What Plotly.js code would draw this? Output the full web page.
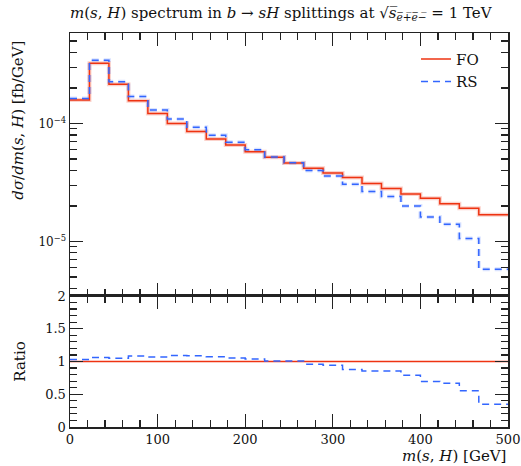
<!DOCTYPE html>
<html><head><meta charset="utf-8">
<script src="https://cdn.plot.ly/plotly-3.0.1.min.js"></script>
<style>html,body{margin:0;padding:0;background:#fff}#c{width:521px;height:466px}</style>
</head><body><div id="c"></div>
<script>
// bin edges in GeV
const binEdges = [0, 22.22, 44.44, 66.67, 88.89, 111.11, 133.33, 155.56, 177.78, 200, 222.22, 244.44, 266.67, 288.89, 311.11, 333.33, 355.56, 377.78, 400, 422.22, 444.44, 466.67, 500];
// dsigma/dm in fb/GeV
const foValues = [1.58e-4, 3.24e-4, 2.15e-4, 1.56e-4, 1.216e-4, 1.0e-4, 8.55e-5, 7.40e-5, 6.58e-5, 5.77e-5, 5.16e-5, 4.62e-5, 4.18e-5, 3.80e-5, 3.49e-5, 3.10e-5, 2.81e-5, 2.53e-5, 2.32e-5, 2.09e-5, 1.91e-5, 1.68e-5];
const rsValues = [1.63e-4, 3.44e-4, 2.26e-4, 1.69e-4, 1.30e-4, 1.09e-4, 9.3e-5, 7.95e-5, 6.93e-5, 6.0e-5, 5.19e-5, 4.65e-5, 4.0e-5, 3.58e-5, 3.06e-5, 2.65e-5, 2.40e-5, 2.0e-5, 1.61e-5, 1.40e-5, 1.06e-5, 5.82e-6];
const seriesNames = ['FO', 'RS'];
const logTickVals = [1e-5, 1e-4];
const logTickText = ['10<sup>−5</sup>', '10<sup>−4</sup>'];
const ratioTicks = [0, 0.5, 1, 1.5, 2];

function stepY(v){ return v.concat([v[v.length-1]]); }
const ratioFO = foValues.map(v => 1);
const ratioRS = rsValues.map((v,i) => v / foValues[i]);

const red = '#ee3311', blue = '#3366ff';
const font = "'DejaVu Serif', 'Liberation Serif', serif";

const traces = [
  {x: binEdges, y: stepY(foValues), mode:'lines', line:{shape:'hv', color:'rgba(238,51,17,0.22)', width:4}, showlegend:false, hoverinfo:'skip', xaxis:'x', yaxis:'y'},
  {x: binEdges, y: stepY(rsValues), mode:'lines', line:{shape:'hv', color:'rgba(51,102,255,0.18)', width:4, dash:'7px,5px'}, showlegend:false, hoverinfo:'skip', xaxis:'x', yaxis:'y'},
  {x: binEdges, y: stepY(foValues), name: seriesNames[0], mode:'lines', line:{shape:'hv', color:red, width:1.5}, xaxis:'x', yaxis:'y'},
  {x: binEdges, y: stepY(rsValues), name: seriesNames[1], mode:'lines', line:{shape:'hv', color:blue, width:1.5, dash:'7px,5px'}, xaxis:'x', yaxis:'y'},
  {x: binEdges, y: stepY(ratioFO), mode:'lines', line:{shape:'hv', color:red, width:1.5}, showlegend:false, xaxis:'x2', yaxis:'y2'},
  {x: binEdges, y: stepY(ratioRS), mode:'lines', line:{shape:'hv', color:blue, width:1.5, dash:'7px,5px'}, showlegend:false, xaxis:'x2', yaxis:'y2'}
];

const logMinor = [];
for (const e of [-6,-5,-4]) for (let d=2; d<=9; d++) logMinor.push(d*Math.pow(10,e));

const common = {ticks:'inside', mirror:'allticks', showline:true, linecolor:'#222', linewidth:1.5, tickcolor:'#222', tickwidth:1.2, showgrid:false, zeroline:false};

const layout = {
  width:521, height:466,
  margin:{l:70, r:13, t:33, b:39},
  paper_bgcolor:'#fff', plot_bgcolor:'#fff',
  font:{family:font, size:13, color:'#111'},
  showlegend:true,
  legend:{x:0.79, y:0.975, xanchor:'left', yanchor:'top', bgcolor:'rgba(0,0,0,0)', font:{size:15}, tracegroupgap:0},
  xaxis: Object.assign({}, common, {domain:[0,1], range:[0,500], anchor:'y', showticklabels:false, dtick:100, ticklen:13, minor:{dtick:20, ticklen:7, ticks:'inside', tickcolor:'#222', showgrid:false}}),
  yaxis: Object.assign({}, common, {domain:[0.3325,1], type:'log', range:[-5.4625,-3.233], anchor:'x', tickvals:logTickVals, ticktext:logTickText, ticklen:13, tickfont:{size:12}, minor:{tickmode:'array', tickvals:logMinor, ticklen:7, ticks:'inside', tickcolor:'#222', showgrid:false}}),
  xaxis2: Object.assign({}, common, {domain:[0,1], range:[0,500], anchor:'y2', dtick:100, ticklen:13, tickfont:{size:13}, minor:{dtick:20, ticklen:7, ticks:'inside', tickcolor:'#222', showgrid:false}}),
  yaxis2: Object.assign({}, common, {domain:[0,0.3325], range:[0,2], anchor:'x2', tickvals:ratioTicks, ticklen:13, tickfont:{size:13}, title:{text:'Ratio', font:{size:15}, standoff:16}, minor:{dtick:0.1, ticklen:7, ticks:'inside', tickcolor:'#222', showgrid:false}}),
  annotations:[
    {xref:'paper', yref:'paper', x:-0.005, y:1.02, xanchor:'left', yanchor:'bottom', showarrow:false, font:{size:15},
     text:'<i>m</i>(<i>s</i>, <i>H</i>) spectrum in <i>b</i> → <i>sH</i> splittings at √<i>s̅</i><sub><i>e̅</i>̅+̅<i>e̅</i>̅−̅</sub> = 1 TeV'},
    {xref:'paper', yref:'paper', x:-0.118, y:0.985, xanchor:'center', yanchor:'top', textangle:-90, showarrow:false, font:{size:15},
     text:'<i>dσ</i>/<i>dm</i>(<i>s</i>, <i>H</i>) [fb/GeV]'},
    {xref:'paper', yref:'paper', x:1, y:-0.045, xanchor:'right', yanchor:'top', showarrow:false, font:{size:15},
     text:'<i>m</i>(<i>s</i>, <i>H</i>) [GeV]'}
  ]
};

Plotly.newPlot('c', traces, layout, {staticPlot:true});
</script></body></html>
